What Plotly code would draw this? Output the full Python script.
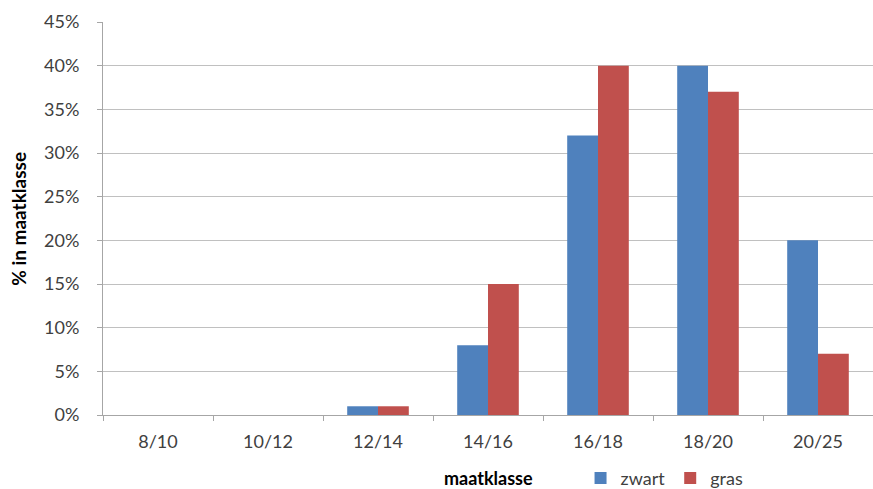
import plotly.graph_objects as go

categories = ["8/10", "10/12", "12/14", "14/16", "16/18", "18/20", "20/25"]
zwart = [0, 0, 1, 8, 32, 40, 20]
gras = [0, 0, 1, 15, 40, 37, 7]
y_ticks = [0, 5, 10, 15, 20, 25, 30, 35, 40, 45]
y_tick_labels = [f"{v}%" for v in y_ticks]
x_title = "maatklasse"
y_title = "% in maatklasse"

FONT = "Lato, Open Sans, sans-serif"

fig = go.Figure()
fig.add_trace(go.Bar(name="zwart", x=categories, y=zwart,
                     marker=dict(color="#4F81BD", line=dict(width=0))))
fig.add_trace(go.Bar(name="gras", x=categories, y=gras,
                     marker=dict(color="#C0504D", line=dict(width=0))))

fig.update_layout(
    width=873, height=489,
    margin=dict(l=103, r=0, t=22, b=74, autoexpand=False),
    paper_bgcolor="white", plot_bgcolor="white",
    barmode="group", bargap=0.44, bargroupgap=0,
    font=dict(family=FONT, size=18, color="#404040"),
    showlegend=True,
    legend=dict(orientation="h", xref="container", yref="container",
                x=0.665, y=0.022, xanchor="left", yanchor="middle",
                font=dict(size=18, color="#404040"), itemwidth=30,
                tracegroupgap=0, traceorder="normal"),
    xaxis=dict(
        automargin=False,
        showline=True, linecolor="#A6A6A6", linewidth=1,
        ticks="outside", ticklen=5, tickcolor="#A6A6A6", tickson="boundaries",
        ticklabelstandoff=10,
        tickfont=dict(size=18, color="#404040"),
    ),
    yaxis=dict(
        automargin=False,
        range=[0, 45], tickvals=y_ticks, ticktext=y_tick_labels,
        showline=True, linecolor="#A6A6A6", linewidth=1,
        showgrid=True, gridcolor="#C0C0C0", gridwidth=1,
        ticks="outside", ticklen=5, tickcolor="#A6A6A6",
        ticklabelstandoff=14,
        tickfont=dict(size=18, color="#404040"),
        zeroline=False,
    ),
    annotations=[
        dict(text=f"<b>{x_title}</b>", xref="paper", yref="paper",
             x=0.5, y=-0.16, xanchor="center", yanchor="middle",
             showarrow=False, font=dict(size=18, color="#000000")),
        dict(text=f"<b>{y_title}</b>", xref="paper", yref="paper",
             x=-0.11, y=0.5, xanchor="center", yanchor="middle", textangle=-90,
             showarrow=False, font=dict(size=19, color="#000000")),
    ],
)

fig.write_html("out.html")
